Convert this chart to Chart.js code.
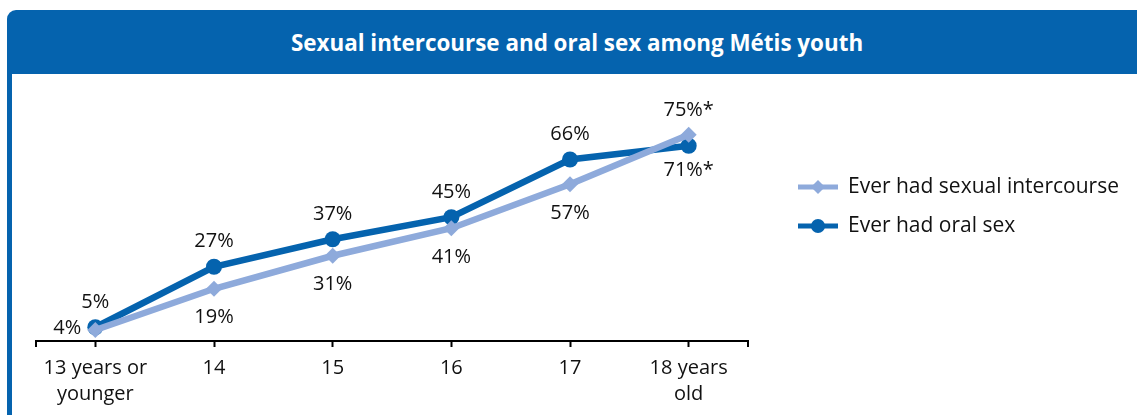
<!DOCTYPE html>
<html>
<head>
<meta charset="utf-8">
<script src="https://cdn.jsdelivr.net/npm/chart.js@4"></script>
<style>
  body { margin: 0; background: #fff; width: 1137px; height: 415px; overflow: hidden; position: relative; }
  .bar {
    position: absolute; left: 7px; top: 10px; width: 1130px; height: 64px;
    background: #0563ae; border-top-left-radius: 9px;
    color: #fff; font: bold 22.4px "Open Sans", sans-serif;
    display: flex; align-items: center; justify-content: center; padding-left: 10px; box-sizing: border-box;
  }
  .edge { position: absolute; left: 7px; top: 40px; width: 5px; height: 375px; background: #0563ae; }
  .wrap { position: absolute; left: 12px; top: 74px; width: 1125px; height: 341px; }
</style>
</head>
<body>
<div class="bar">Sexual intercourse and oral sex among Métis youth</div>
<div class="edge"></div>
<div class="wrap"><canvas id="chart"></canvas></div>
<script>
// Chart data
const ageGroups = [['13 years or', 'younger'], '14', '15', '16', '17', ['18 years', 'old']];
const intercourse = [4, 19, 31, 41, 57, 75];
const oralSex = [5, 27, 37, 45, 66, 71];
const intercourseLabels = ['4%', '19%', '31%', '41%', '57%', '75%*'];
const oralSexLabels = ['5%', '27%', '37%', '45%', '66%', '71%*'];

const lightBlue = '#8eaadb';
const darkBlue = '#0563ae';
const fontFamily = '"Open Sans", sans-serif';

// Value labels next to each point
const pointLabels = {
    id: 'pointLabels',
    afterDatasetsDraw(chart) {
        const ctx = chart.ctx;
        ctx.save();
        ctx.font = '20px ' + fontFamily;
        ctx.fillStyle = '#111';
        ctx.textBaseline = 'middle';
        chart.data.datasets.forEach((ds, i) => {
            const meta = chart.getDatasetMeta(i);
            const last = meta.data.length - 1;
            meta.data.forEach((pt, j) => {
                const txt = ds.valueLabels[j];
                let x = pt.x, y = pt.y;
                ctx.textAlign = 'center';
                if (i === 0) {
                    if (j === 0) { ctx.textAlign = 'right'; x -= 14; y -= 2; }
                    else if (j === last) { y -= 24; }
                    else { y += 29; }
                } else {
                    if (j === last) { y += 25; }
                    else { y -= 25; }
                }
                ctx.fillText(txt, x, y);
            });
        });
        ctx.restore();
    }
};

// Axis line with end ticks + legend on the right
const extras = {
    id: 'extras',
    afterDraw(chart) {
        const ctx = chart.ctx;
        const area = chart.chartArea;
        ctx.save();
        ctx.strokeStyle = '#000';
        ctx.lineWidth = 2;
        ctx.beginPath();
        ctx.moveTo(area.left, area.bottom + 6);
        ctx.lineTo(area.left, area.bottom);
        ctx.lineTo(area.right, area.bottom);
        ctx.lineTo(area.right, area.bottom + 6);
        ctx.stroke();

        ctx.font = '21px ' + fontFamily;
        ctx.textBaseline = 'middle';
        ctx.textAlign = 'left';
        chart.data.datasets.forEach((ds, i) => {
            const lx = area.right + 50;
            const ly = area.top + 66 + i * 39;
            ctx.strokeStyle = ds.borderColor;
            ctx.lineWidth = 5;
            ctx.beginPath();
            ctx.moveTo(lx, ly);
            ctx.lineTo(lx + 40, ly);
            ctx.stroke();
            ctx.fillStyle = ds.borderColor;
            ctx.beginPath();
            if (ds.pointStyle === 'rectRot') {
                ctx.moveTo(lx + 20, ly - 7);
                ctx.lineTo(lx + 27, ly);
                ctx.lineTo(lx + 20, ly + 7);
                ctx.lineTo(lx + 13, ly);
            } else {
                ctx.arc(lx + 20, ly, 7, 0, Math.PI * 2);
            }
            ctx.fill();
            ctx.fillStyle = '#111';
            ctx.fillText(ds.label, lx + 50, ly);
        });
        ctx.restore();
    }
};

new Chart(document.getElementById('chart'), {
    type: 'line',
    data: {
        labels: ageGroups,
        datasets: [{
            label: 'Ever had sexual intercourse',
            data: intercourse,
            valueLabels: intercourseLabels,
            borderColor: lightBlue,
            backgroundColor: lightBlue,
            borderWidth: 6.5,
            pointStyle: 'rectRot',
            pointRadius: 8,
            pointBorderWidth: 0,
            tension: 0
        }, {
            label: 'Ever had oral sex',
            data: oralSex,
            valueLabels: oralSexLabels,
            borderColor: darkBlue,
            backgroundColor: darkBlue,
            borderWidth: 6.5,
            pointStyle: 'circle',
            pointRadius: 8,
            pointBorderWidth: 0,
            tension: 0
        }]
    },
    options: {
        responsive: true,
        maintainAspectRatio: false,
        animation: false,
        layout: {
            padding: { left: 24, right: 389, top: 47, bottom: 0 }
        },
        plugins: {
            legend: { display: false },
            tooltip: { enabled: false }
        },
        scales: {
            y: {
                display: false,
                min: 0,
                max: 80
            },
            x: {
                offset: true,
                border: { display: false },
                grid: {
                    offset: false,
                    drawOnChartArea: false,
                    drawTicks: true,
                    tickLength: 6,
                    tickWidth: 2,
                    tickColor: '#000'
                },
                ticks: {
                    color: '#111',
                    padding: 8,
                    maxRotation: 0,
                    font: { family: fontFamily, size: 20, lineHeight: 1.3 }
                }
            }
        }
    },
    plugins: [pointLabels, extras]
});
</script>
</body>
</html>
